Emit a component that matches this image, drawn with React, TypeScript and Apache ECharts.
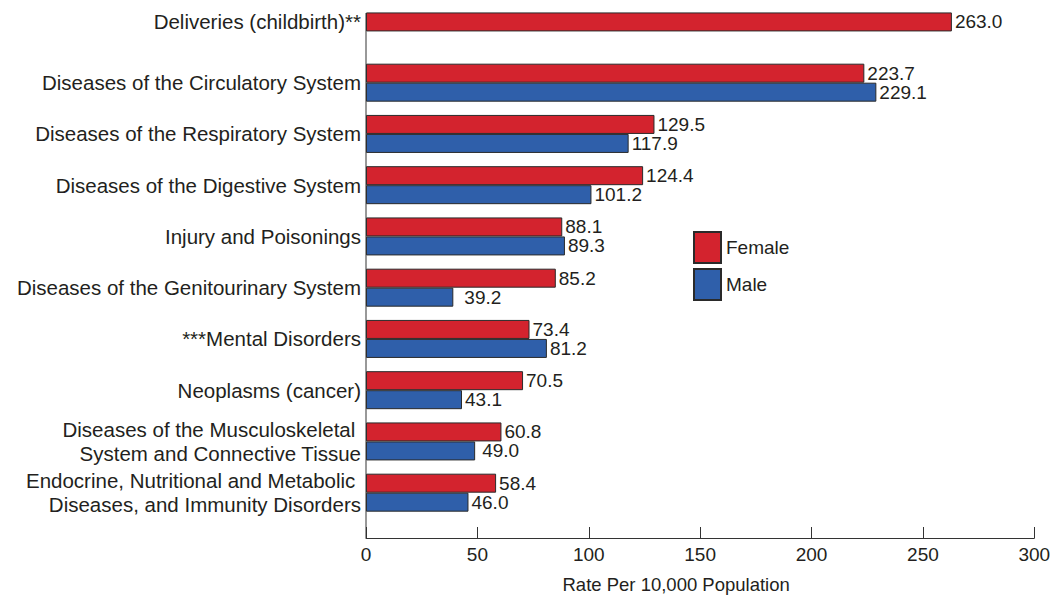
import React, { useEffect, useRef } from 'react';
import * as echarts from 'echarts';

const categories: string[] = [
  'Deliveries (childbirth)**',
  'Diseases of the Circulatory System',
  'Diseases of the Respiratory System',
  'Diseases of the Digestive System',
  'Injury and Poisonings',
  'Diseases of the Genitourinary System',
  '***Mental Disorders',
  'Neoplasms (cancer)',
  'Diseases of the Musculoskeletal \nSystem and Connective Tissue',
  'Endocrine, Nutritional and Metabolic \nDiseases, and Immunity Disorders',
];
const femaleValues: (number | null)[] = [263.0, 223.7, 129.5, 124.4, 88.1, 85.2, 73.4, 70.5, 60.8, 58.4];
const maleValues: (number | null)[] = [null, 229.1, 117.9, 101.2, 89.3, 39.2, 81.2, 43.1, 49.0, 46.0];
const seriesNames = ['Female', 'Male'];
const xMin = 0;
const xMax = 300;
const xStep = 50;
const xAxisTitle = 'Rate Per 10,000 Population';

const FONT = '"Liberation Sans", Arial, Helvetica, sans-serif';
const TEXT = '#231f20';
const RED = '#d3232e';
const BLUE = '#2f5faa';
const GRID_LEFT = 366;
const GRID_RIGHT = 1061 - 1034.3;
const GRID_TOP = 5.8;
const GRID_BOTTOM = 599 - 518.3;
const AXIS_Y = 538;

// a few labels in the original sit further from their bars
const maleLabelDistance: Record<number, number> = { 5: 11, 8: 7 };

export default function App() {
  const ref = useRef<HTMLDivElement>(null);
  useEffect(() => {
    if (!ref.current) return;
    const chart = echarts.init(ref.current, undefined, { renderer: 'svg' });
    const fmt = (p: any) => (p.value == null ? '' : Number(p.value).toFixed(1));
    const labelBase = {
      show: true,
      position: 'right',
      distance: 3,
      fontSize: 19,
      lineHeight: 18,
      fontFamily: FONT,
      color: TEXT,
      formatter: fmt,
    };
    const catLabelStyle = { fontSize: 20.5, fontFamily: FONT, color: TEXT, lineHeight: 24 };
    chart.setOption({
      animation: false,
      textStyle: { fontFamily: FONT, color: TEXT },
      grid: { left: GRID_LEFT, right: GRID_RIGHT, top: GRID_TOP, bottom: GRID_BOTTOM },
      legend: {
        data: seriesNames,
        orient: 'vertical',
        left: 693,
        top: 231,
        padding: 0,
        itemWidth: 27,
        itemHeight: 31,
        itemGap: 4,
        icon: 'rect',
        textStyle: { fontSize: 19, fontFamily: FONT, color: TEXT },
        selectedMode: false,
      },
      xAxis: {
        type: 'value',
        min: xMin,
        max: xMax,
        interval: xStep,
        offset: AXIS_Y - (599 - GRID_BOTTOM),
        axisLine: { show: true, lineStyle: { color: '#333', width: 1 } },
        axisTick: { show: true, inside: true, length: 11, lineStyle: { color: '#333', width: 1 } },
        splitLine: { show: false },
        axisLabel: { fontSize: 19, fontFamily: FONT, color: TEXT, margin: 7 },
        name: xAxisTitle,
        nameLocation: 'middle',
        nameGap: 37,
        nameTextStyle: { fontSize: 18.5, fontFamily: FONT, color: TEXT, padding: [0, 48, 0, 0] },
      },
      yAxis: {
        type: 'category',
        data: categories,
        inverse: true,
        axisLine: { show: false },
        axisTick: { show: false },
        axisLabel: {
          ...catLabelStyle,
          margin: 5,
          align: 'right',
          formatter: (v: string, i: number) => (i === 0 ? `{up|${v}}` : v),
          rich: {
            up: { ...catLabelStyle, padding: [0, 0, 19, 0] },
          },
        },
      },
      graphic: [
        {
          type: 'line',
          shape: { x1: GRID_LEFT, y1: 13, x2: GRID_LEFT, y2: AXIS_Y },
          style: { stroke: '#333', lineWidth: 1 },
          z: 10,
        },
      ],
      series: [
        {
          name: seriesNames[0],
          type: 'bar',
          data: femaleValues,
          barWidth: 19,
          barGap: '0%',
          itemStyle: { color: RED, borderColor: '#2a2a2a', borderWidth: 1 },
          label: labelBase,
        },
        {
          name: seriesNames[1],
          type: 'bar',
          data: maleValues.map((v, i) =>
            maleLabelDistance[i] != null
              ? { value: v, label: { distance: maleLabelDistance[i] } }
              : v
          ),
          barWidth: 19,
          barGap: '0%',
          itemStyle: { color: BLUE, borderColor: '#2a2a2a', borderWidth: 1 },
          label: labelBase,
        },
      ],
    });
    return () => chart.dispose();
  }, []);
  return (
    <div
      ref={ref}
      style={{ position: 'fixed', left: 0, top: 0, width: 1061, height: 599, background: '#fff' }}
    />
  );
}
